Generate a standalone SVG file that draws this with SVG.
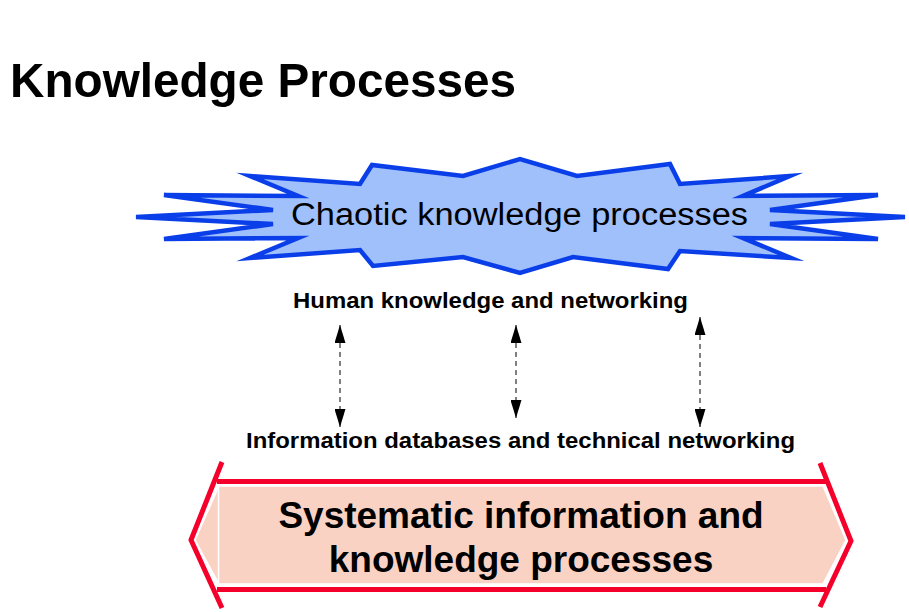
<svg xmlns="http://www.w3.org/2000/svg" width="909" height="612" viewBox="0 0 909 612">
<style>
  text { font-family: "Liberation Sans", Arial, sans-serif; fill: #000; }
  .title { font-size: 49px; font-weight: bold; }
  .star { fill: #a0c0fc; stroke: #0a3ee8; stroke-width: 4.5; stroke-linejoin: miter; stroke-miterlimit: 10; }
  .hex { fill: #fad2c4; stroke: #ffffff; stroke-width: 1.5; }
  .red { fill: none; stroke: #f5002b; stroke-width: 5; }
  .lbl { font-size: 22px; font-weight: bold; }
  .chaos { font-size: 31px; }
  .sys { font-size: 37px; font-weight: bold; }
  .dash { stroke: #000; stroke-width: 1; stroke-dasharray: 5 4; fill: none; }
</style>
<defs>
  <marker id="ah" markerUnits="userSpaceOnUse" markerWidth="18" markerHeight="11" refX="18" refY="5.5" orient="auto-start-reverse">
    <path d="M0,0 L18,5.5 L0,11 z" fill="#000"/>
  </marker>
</defs>
<rect width="909" height="612" fill="#fff"/>
<g id="title">
  <text class="title" x="10" y="96.5" textLength="506" lengthAdjust="spacingAndGlyphs">Knowledge Processes</text>
</g>
<g id="chaotic">
  <polygon class="star" points="250,176 360,184 372,165 463,176 520,159 577,176 670,164 680,184 790,176 743,196 878,195 770,210 905,217 770,224 878,239 743,238 791,258 680,251 668,269 573,257 520,273 463,257 373,266 360,250 250,258 298,238 164,239 273,224 136,217 273,210 164,195 298,196"/>
  <text class="chaos" x="291" y="225" textLength="457" lengthAdjust="spacingAndGlyphs">Chaotic knowledge processes</text>
</g>
<g id="human">
  <text class="lbl" x="293" y="307.5" textLength="395" lengthAdjust="spacingAndGlyphs">Human knowledge and networking</text>
</g>
<g id="information">
  <text class="lbl" x="246" y="448" textLength="549" lengthAdjust="spacingAndGlyphs">Information databases and technical networking</text>
</g>
<g id="systematic">
  <polygon class="hex" points="195,540 219,486 823,486 846,540 823,584 219,584"/>
  <line x1="218.5" y1="486" x2="218.5" y2="584" stroke="#fff" stroke-width="1.5"/>
  <line class="red" x1="217" y1="481.5" x2="826" y2="481.5"/>
  <line class="red" x1="217" y1="589.5" x2="826" y2="589.5"/>
  <polyline class="red" points="222,462 191,540 222,608"/>
  <polyline class="red" points="820,463 851,541 820,607"/>
  <text class="sys" x="521" y="528" text-anchor="middle">Systematic information and</text>
  <text class="sys" x="521" y="572" text-anchor="middle">knowledge processes</text>
</g>
<g id="connectors">
  <line class="dash" x1="340" y1="325" x2="340" y2="427" marker-start="url(#ah)" marker-end="url(#ah)"/>
  <line class="dash" x1="516" y1="325" x2="516" y2="418" marker-start="url(#ah)" marker-end="url(#ah)"/>
  <line class="dash" x1="700" y1="317" x2="700" y2="427" marker-start="url(#ah)" marker-end="url(#ah)"/>
</g>
</svg>
